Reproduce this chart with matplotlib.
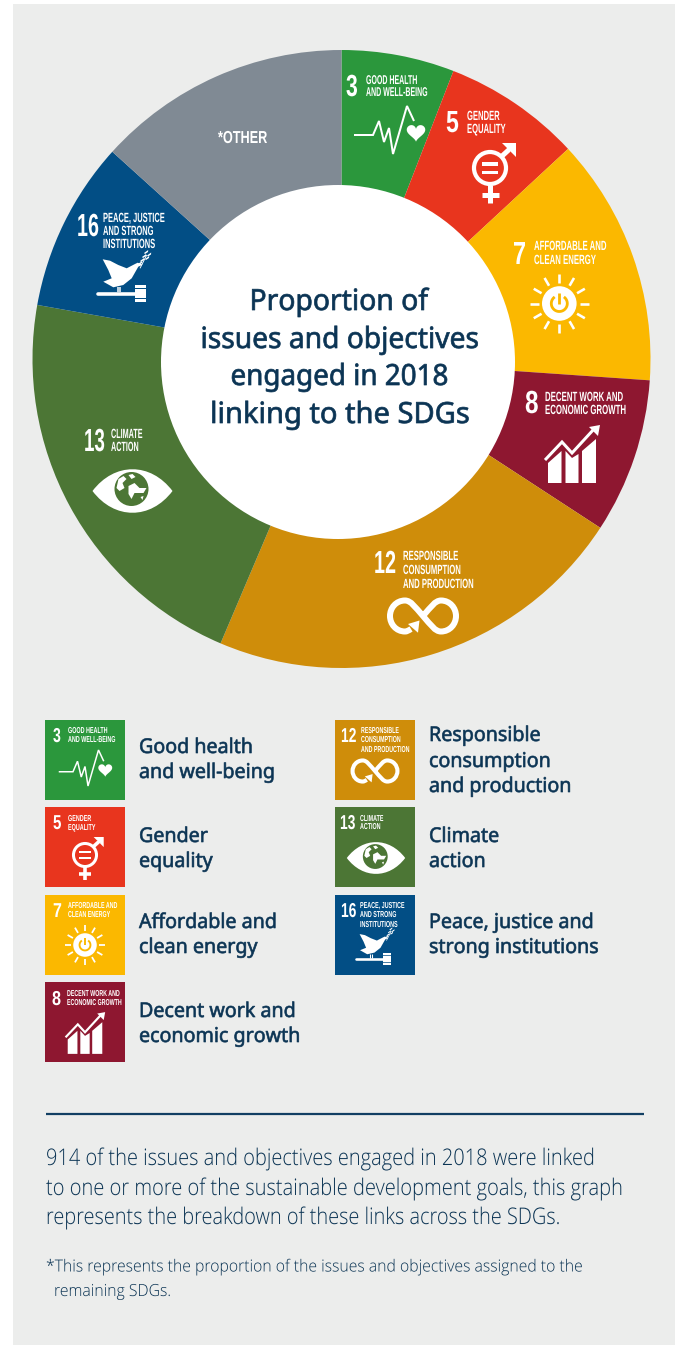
import numpy as np
import matplotlib
matplotlib.use("Agg")
import matplotlib.pyplot as plt
import matplotlib.patheffects as pe
from matplotlib.font_manager import FontProperties
from matplotlib.patches import Circle, Polygon, Rectangle, PathPatch
from matplotlib.path import Path
from matplotlib.textpath import TextPath
from matplotlib.transforms import Affine2D

# Share of linked issues and objectives per goal, in percent
goals = ["3", "5", "7", "8", "12", "13", "16", "*OTHER"]
shares = [5.9, 7.2, 13.0, 8.1, 22.2, 21.4, 8.9, 13.3]
colours = ["#2b973c", "#e8351e", "#fbb800", "#8e1730", "#cf8d0a", "#4c7635", "#024e85", "#808a94"]

title_lines = ["Proportion of", "issues and objectives", "engaged in 2018", "linking to the SDGs"]
paragraph = ["914 of the issues and objectives engaged in 2018 were linked",
             "to one or more of the sustainable development goals, this graph",
             "represents the breakdown of these links across the SDGs."]
footnote = ["*This represents the proportion of the issues and objectives assigned to the",
            "remaining SDGs."]
badge_lines = {
    "3": ["GOOD HEALTH", "AND WELL-BEING"],
    "5": ["GENDER", "EQUALITY"],
    "7": ["AFFORDABLE AND", "CLEAN ENERGY"],
    "8": ["DECENT WORK AND", "ECONOMIC GROWTH"],
    "12": ["RESPONSIBLE", "CONSUMPTION", "AND PRODUCTION"],
    "13": ["CLIMATE", "ACTION"],
    "16": ["PEACE, JUSTICE", "AND STRONG", "INSTITUTIONS"],
}
legend_lines = {
    "3": ["Good health", "and well-being"],
    "5": ["Gender", "equality"],
    "7": ["Affordable and", "clean energy"],
    "8": ["Decent work and", "economic growth"],
    "12": ["Responsible", "consumption", "and production"],
    "13": ["Climate", "action"],
    "16": ["Peace, justice and", "strong institutions"],
}

NAVY = "#0b3454"
PANEL = "#ecedec"
W, H = 682, 1345
fig = plt.figure(figsize=(W / 100, H / 100), dpi=100, facecolor="white")

# Pixel-addressed canvas for the background panel
bg = fig.add_axes([0, 0, 1, 1], zorder=0)
bg.set_xlim(0, W); bg.set_ylim(H, 0); bg.axis("off")
bg.add_patch(Rectangle((13, 4), 662, H - 4, fc=PANEL, ec="none"))

# Donut ring: full pie, with a white disc laid over it later
CX, CY, R = 341.5, 359, 309
pie_ax = fig.add_axes([(CX - R) / W, 1 - (CY + R) / H, 2 * R / W, 2 * R / H], zorder=1)
pie_ax.pie(shares, colors=colours, startangle=90, counterclock=False, radius=1,
           wedgeprops={"linewidth": 0})
pie_ax.set_xlim(-1, 1); pie_ax.set_ylim(-1, 1)

# Pixel-addressed canvas for icons, tiles and text
ax = fig.add_axes([0, 0, 1, 1], zorder=2)
ax.set_xlim(0, W); ax.set_ylim(H, 0); ax.axis("off"); ax.patch.set_visible(False)
ax.add_patch(Circle((338, 362), 177, fc="white", ec="none", zorder=1))


class Tall(pe.AbstractPathEffect):
    """Stretch glyph outlines upward from the baseline, optionally thickening them."""
    def __init__(self, sy, thicken=0.0):
        super().__init__()
        self.sy = sy
        self.thicken = thicken

    def draw_path(self, renderer, gc, tpath, affine, rgbFace=None):
        tr = Affine2D().scale(1, self.sy) + affine
        if self.thicken:
            g = renderer.new_gc()
            g.copy_properties(gc)
            g.set_foreground(rgbFace[:3])
            g.set_linewidth(self.thicken)
            renderer.draw_path(g, tpath, tr, rgbFace)
            g.restore()
        else:
            renderer.draw_path(gc, tpath, tr, rgbFace)


def natural_width(s, fp, size):
    return TextPath((0, 0), s, size=size * 100 / 72, prop=fp).get_extents().width


def label(x, y, s, size, family, weight="normal", colour="white", sx=1.0, thicken=0.0):
    # A condensed face: the font size sets the width, the effect restores the height
    ax.text(x, y, s, fontsize=size * sx, family=family, fontweight=weight, color=colour,
            ha="left", va="baseline", zorder=5, path_effects=[Tall(1 / sx, thicken)])


def fit_ratio(s, size, family, weight, width):
    fp = FontProperties(family=family, weight=weight)
    return width / natural_width(s, fp, size)


BADGE = "Liberation Sans"


def badge(num, nx, nb, nsize, nwidth, tx, baselines, tsize, ref_line, ref_width):
    label(nx, nb, num, nsize, BADGE, "bold",
          sx=fit_ratio(num, nsize, BADGE, "bold", nwidth))
    r = fit_ratio(ref_line, tsize, BADGE, "bold", ref_width)
    for line, b in zip(badge_lines[num], baselines):
        label(tx, b, line, tsize, BADGE, "bold", sx=r)


def place(pts, cx, cy, s):
    return np.asarray(pts, float) * s + (cx, cy)


def stroke(pts, cx, cy, s, lw, colour="white", cap="butt", join="miter"):
    p = place(pts, cx, cy, s)
    ax.plot(p[:, 0], p[:, 1], color=colour, lw=lw * s * 0.72, solid_capstyle=cap,
            solid_joinstyle=join, zorder=4)


def fill(pts, cx, cy, s, colour="white", z=4):
    ax.add_patch(Polygon(place(pts, cx, cy, s), closed=True, fc=colour, ec="none", zorder=z))


def icon_health(cx, cy, s):
    pulse = [(-35, 5), (-16, 5), (-10, -9), (-5, 12), (0, -2), (4, 24), (18, -24), (25, -9)]
    stroke(pulse, cx, cy, s, 2.0)
    t = np.linspace(0, 2 * np.pi, 60)
    hx = 16 * np.sin(t) ** 3
    hy = -(13 * np.cos(t) - 5 * np.cos(2 * t) - 2 * np.cos(3 * t) - np.cos(4 * t))
    fill(np.c_[27 + hx * 0.58, 2 + hy * 0.58], cx, cy, s)


def icon_gender(cx, cy, s, bg_col):
    ax.add_patch(Circle((cx, cy), 16 * s, fc="none", ec="white", lw=4.2 * s * 0.72, zorder=4))
    for dy in (-6, 2.5):
        fill([(-8, dy), (8, dy), (8, dy + 3.6), (-8, dy + 3.6)], cx, cy, s)
    stroke([(0, 17), (0, 35)], cx, cy, s, 5)
    stroke([(-8.5, 26.5), (8.5, 26.5)], cx, cy, s, 5)
    stroke([(11, -11), (23, -22)], cx, cy, s, 5)
    fill([(12, -25), (26, -25), (26, -11), (21, -16), (21, -20), (17, -20)], cx, cy, s)


def icon_sun(cx, cy, s, bg_col):
    for a in np.deg2rad(np.arange(0, 360, 30)):
        stroke([(20.5 * np.cos(a), 20.5 * np.sin(a)), (29.5 * np.cos(a), 29.5 * np.sin(a))],
               cx, cy, s, 2.6)
    ax.add_patch(Circle((cx, cy), 17.3 * s, fc="white", ec="none", zorder=4))
    t = np.deg2rad(np.linspace(-55, 235, 40))
    stroke(np.c_[8 * np.cos(t), 8 * np.sin(t)], cx, cy, s, 2.8, colour=bg_col)
    stroke([(0, -10.5), (0, 0)], cx, cy, s, 2.8, colour=bg_col)


def icon_growth(cx, cy, s):
    fill([(-24, 29), (-24, 9), (-10.5, -3), (-10.5, 29)], cx, cy, s)
    fill([(-6.5, 29), (-6.5, -3), (0, 4), (6.5, 0), (6.5, 29)], cx, cy, s)
    fill([(10, 29), (10, -3), (24, -15), (24, 29)], cx, cy, s)
    stroke([(-27, 6), (-10, -12), (0, -1), (22, -25)], cx, cy, s, 3.0)
    fill([(17, -27), (28, -29), (26, -18)], cx, cy, s)


def icon_loop(cx, cy, s, bg_col):
    # Figure-of-eight running right lobe first, left lobe last, open at the arrow head
    v = [(0, 0), (8, -9), (12, -15.5), (18, -15.5), (27, -15.5), (33, -8), (33, 0),
         (33, 8), (27, 15.5), (18, 15.5), (12, 15.5), (8, 9), (0, 0),
         (-8, -9), (-12, -15.5), (-18, -15.5), (-27, -15.5), (-33, -8), (-33, 0),
         (-33, 8), (-27, 15.5), (-18, 15.5), (-16, 15.5), (-14.5, 14.5), (-12, 13)]
    codes = [Path.MOVETO] + [Path.CURVE4] * (len(v) - 1)
    path = Path(place(v, cx, cy, s), codes)
    ax.add_patch(PathPatch(path, fc="none", ec="white", lw=6 * s * 0.72, capstyle="butt",
                           joinstyle="round", zorder=4))
    fill([(-15, 8), (-3.5, 4.5), (-5, 16.7)], cx, cy, s)


def icon_eye(cx, cy, s, bg_col):
    pts = [(-40, 0), (-18, -29), (18, -29), (40, 0), (18, 29), (-18, 29), (-40, 0)]
    codes = [Path.MOVETO] + [Path.CURVE4] * 6
    ax.add_patch(PathPatch(Path(place(pts, cx, cy, s), codes), fc="white", ec="none", zorder=4))
    ax.add_patch(Circle((cx - s, cy - 2 * s), 17 * s, fc=bg_col, ec="none", zorder=4))
    land = [
        [(-14, -12), (-9, -15), (-6, -12), (-10, -8), (-8, -3), (-13, 0), (-16, -3)],
        [(-4, -5), (2, -8), (7, -3), (14, -3), (11, 2), (2, 2), (-1, 8), (-4, 3)],
        [(-4, -16), (0, -17), (3, -14), (-1, -12)],
        [(8, 6), (11, 5), (10, 9)],
    ]
    for poly in land:
        fill(poly, cx, cy, s, z=4.5)


def icon_peace(cx, cy, s):
    # dove
    fill([(-19.3, -20.7), (-12, -19.3), (-3.7, -15), (4.7, -11.7), (13, -16), (15.7, -17.3),
          (20.7, -15.3), (16.3, -13.3), (9.7, -1.7), (1.3, 5), (-8.7, 7.3), (-18.7, 1.7),
          (-10.3, -1.7), (-13.7, -10)], cx, cy, s)
    # olive sprig
    stroke([(18, -11.7), (24.7, -25)], cx, cy, s, 0.9)
    for lx, ly in [(20, -20), (25, -22), (22, -24), (27, -25.5), (24, -28), (18, -17)]:
        fill([(lx - 2, ly + 1), (lx + 2.2, ly - 2), (lx + 2, ly), (lx - 1, ly + 2)], cx, cy, s)
    # perch and gavel
    stroke([(-4.3, 7), (-4.3, 12)], cx, cy, s, 1.5)
    stroke([(-2, 7), (-2, 12)], cx, cy, s, 1.5)
    stroke([(-24, 13.7), (14, 13.7)], cx, cy, s, 3.6, cap="round")
    fill([(13, 5), (24, 5), (24, 21.7), (13, 21.7)], cx, cy, s)
    stroke([(12, 8.3), (25, 8.3)], cx, cy, s, 1, colour="#024e85")
    stroke([(12, 18.3), (25, 18.3)], cx, cy, s, 1, colour="#024e85")


# Labels and icons on the ring
badge("3", 346, 96, 22, 10.5, 366, [84, 96], 9.2, "AND WELL-BEING", 61)
icon_health(389, 130, 1.0)
badge("5", 446, 132, 22, 11.5, 467, [120, 133], 9.6, "EQUALITY", 38)
icon_gender(490, 168, 1.0, colours[1])
badge("7", 513, 264, 23, 11, 534, [250, 264], 9.6, "AFFORDABLE AND", 72)
icon_sun(559.3, 303.5, 1.0, colours[2])
badge("8", 525, 413, 23, 12, 545, [401, 414], 9.6, "ECONOMIC GROWTH", 80)
icon_growth(572, 454, 1.0)
badge("12", 374, 573, 23, 20, 403, [560, 574, 588], 9.6, "AND PRODUCTION", 70)
icon_loop(423, 616, 1.0, colours[4])
badge("16", 77, 236, 23, 20, 103, [222, 235, 248], 9.6, "PEACE, JUSTICE", 61)
icon_peace(122, 280, 1.0)
badge("13", 84, 451, 23, 19, 111, [438, 451], 9.6, "CLIMATE", 31)
icon_eye(132.5, 491, 1.0, colours[5])
label(218, 143, "*OTHER", 12.5, BADGE, "bold",
      sx=fit_ratio("*OTHER", 12.5, BADGE, "bold", 49))

# Title in the hole
TITLE_FONT = "Noto Sans"
for line, b, wd in zip(title_lines, [310, 348, 385, 423], [177, 275, 215, 256]):
    r = fit_ratio(line, 21, TITLE_FONT, "normal", wd)
    label(338 - wd / 2, b, line, 21, TITLE_FONT, "normal", NAVY, sx=r, thicken=0.5)

# Legend: tile, then text beside it
tiles = [
    ("3", 45, 720, [753, 778], 139), ("5", 45, 807, [842, 867], 139),
    ("7", 45, 895, [928, 953], 139), ("8", 45, 982, [1017, 1042], 139),
    ("12", 335, 720, [741, 767, 792], 429), ("13", 335, 807, [842, 867], 429),
    ("16", 335, 895, [928, 953], 429),
]
for goal, x0, y0, bases, tx in tiles:
    col = colours[goals.index(goal)]
    ax.add_patch(Rectangle((x0, y0), 80, 80, fc=col, ec="none", zorder=2))
    for line, b in zip(legend_lines[goal], bases):
        label(tx, b, line, 14.6, TITLE_FONT, "normal", NAVY, sx=0.97, thicken=0.45)

badge("3", 53, 742, 14.5, 7, 68, [733, 742], 6.2, "AND WELL-BEING", 47)
icon_health(85, 768, 0.75)
badge("5", 53, 829, 14.5, 7.5, 68, [821, 830], 6.2, "EQUALITY", 27)
icon_gender(85, 855, 0.72, colours[1])
badge("7", 53, 917, 14.5, 7.5, 68, [908, 917], 6.2, "AFFORDABLE AND", 49)
icon_sun(85, 945, 0.68, colours[2])
badge("8", 52, 1005, 14.5, 8, 67, [996, 1005], 6.2, "ECONOMIC GROWTH", 54)
icon_growth(85, 1033, 0.72)
badge("12", 341, 742, 14.5, 14, 361, [733, 742, 752], 6.2, "AND PRODUCTION", 48)
icon_loop(375, 771, 0.68, colours[4])
badge("13", 340, 829, 14.5, 14, 360, [821, 829], 6.2, "CLIMATE", 23)
icon_eye(376, 858, 0.73, colours[5])
badge("16", 341, 917, 14.5, 14, 360, [908, 917, 927], 6.2, "PEACE, JUSTICE", 44)
icon_peace(373.5, 949, 0.72)

# Rule and explanatory notes
ax.plot([46, 644], [1114, 1114], color="#123f63", lw=1.6, solid_capstyle="butt", zorder=3)
BODY = "Open Sans"
for line, b, wd in zip(paragraph, [1165, 1195, 1224], [546, 575, 511]):
    r = fit_ratio(line, 16.5, BODY, 300, wd)
    label(46, b, line, 16.5, BODY, 300, NAVY, sx=r)
r = fit_ratio(footnote[0], 12, BODY, 300, 535)
label(46, 1271.5, footnote[0], 12, BODY, 300, NAVY, sx=r)
label(54, 1296, footnote[1], 12, BODY, 300, NAVY, sx=r)

fig.savefig("out.png", dpi=100)
